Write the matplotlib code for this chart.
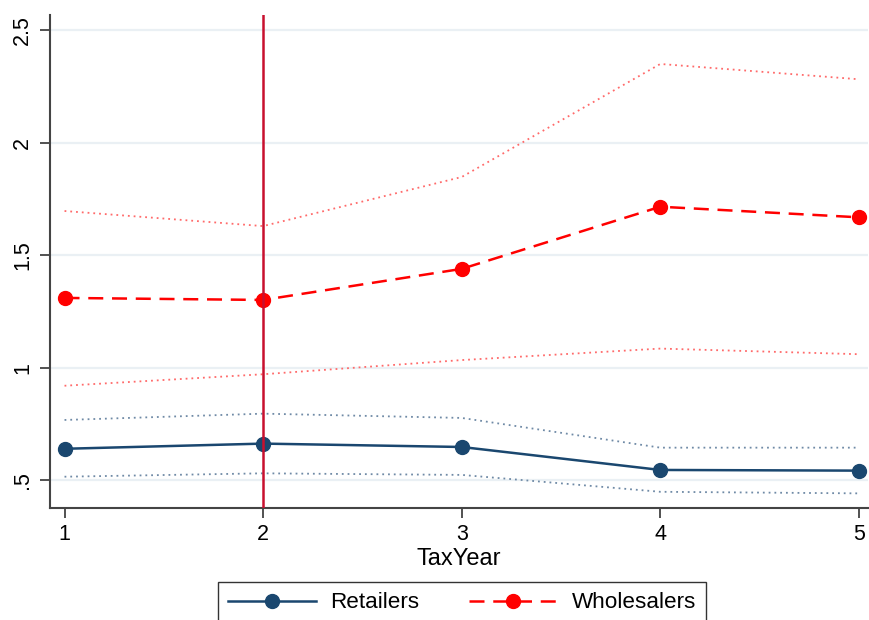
import numpy as np
import matplotlib.pyplot as plt
from matplotlib.lines import Line2D

plt.rcParams['font.family'] = ['Liberation Sans', 'DejaVu Sans']

tax_year = [1, 2, 3, 4, 5]

retail = [0.640, 0.663, 0.648, 0.546, 0.543]
retail_hi = [0.768, 0.796, 0.777, 0.645, 0.645]
retail_lo = [0.516, 0.531, 0.524, 0.449, 0.442]

whole = [1.310, 1.301, 1.439, 1.715, 1.668]
whole_hi = [1.696, 1.629, 1.847, 2.349, 2.281]
whole_lo = [0.920, 0.971, 1.034, 1.085, 1.060]

yticks = [0.5, 1, 1.5, 2, 2.5]
ytick_labels = ['.5', '1', '1.5', '2', '2.5']
event_year = 2

navy = '#1a476f'
red = '#ff0000'

fig = plt.figure(figsize=(8.7, 6.2), dpi=100)
ax = fig.add_axes([0.0575, 0.181, 0.940, 0.795])

for y in yticks:
    ax.axhline(y, color='#eaf0f4', lw=1.6, zorder=0)

# confidence bands as dotted lines
ax.plot(tax_year, retail_hi, color='#6f8aa6', lw=1.3, ls=(0, (1, 2.2)))
ax.plot(tax_year, retail_lo, color='#6f8aa6', lw=1.3, ls=(0, (1, 2.2)))
ax.plot(tax_year, whole_hi, color='#ff6a6a', lw=1.3, ls=(0, (1, 2.2)))
ax.plot(tax_year, whole_lo, color='#ff6a6a', lw=1.3, ls=(0, (1, 2.2)))

ax.plot(tax_year, retail, color=navy, lw=1.8, marker='o', ms=10, zorder=3)
ax.plot(tax_year, whole, color=red, lw=1.8, ls=(0, (6, 3.5)), marker='o', ms=10, zorder=3)

ax.axvline(event_year, color='#c8102e', lw=1.8, zorder=4)

ax.set_xlim(0.927, 5.045)
ax.set_ylim(0.378, 2.567)
ax.set_xticks(tax_year)
ax.set_yticks(yticks)
ax.set_yticklabels(ytick_labels, rotation=90, va='center')
ax.tick_params(labelsize=15.5, length=7, width=1.2, color='#333333', pad=5)
ax.set_xlabel('TaxYear', fontsize=17, labelpad=2)

for side in ['top', 'right']:
    ax.spines[side].set_visible(False)
for side in ['left', 'bottom']:
    ax.spines[side].set_color('#444444')
    ax.spines[side].set_linewidth(1.5)

handles = [
    Line2D([], [], color=navy, lw=1.8, marker='o', ms=10),
    Line2D([], [], color=red, lw=1.8, ls=(0, (6, 3.5)), marker='o', ms=10),
]
leg = fig.legend(handles, ['Retailers', 'Wholesalers'], loc='upper center',
                 bbox_to_anchor=(0.531, 0.0608), bbox_transform=fig.transFigure,
                 ncol=2, fontsize=16.2, handlelength=3.9, handletextpad=0.65,
                 columnspacing=2.2, fancybox=False, framealpha=1,
                 borderpad=0.45, borderaxespad=0)
leg.get_frame().set_edgecolor('#333333')
leg.get_frame().set_linewidth(1.0)

fig.savefig('out.png', dpi=100)
